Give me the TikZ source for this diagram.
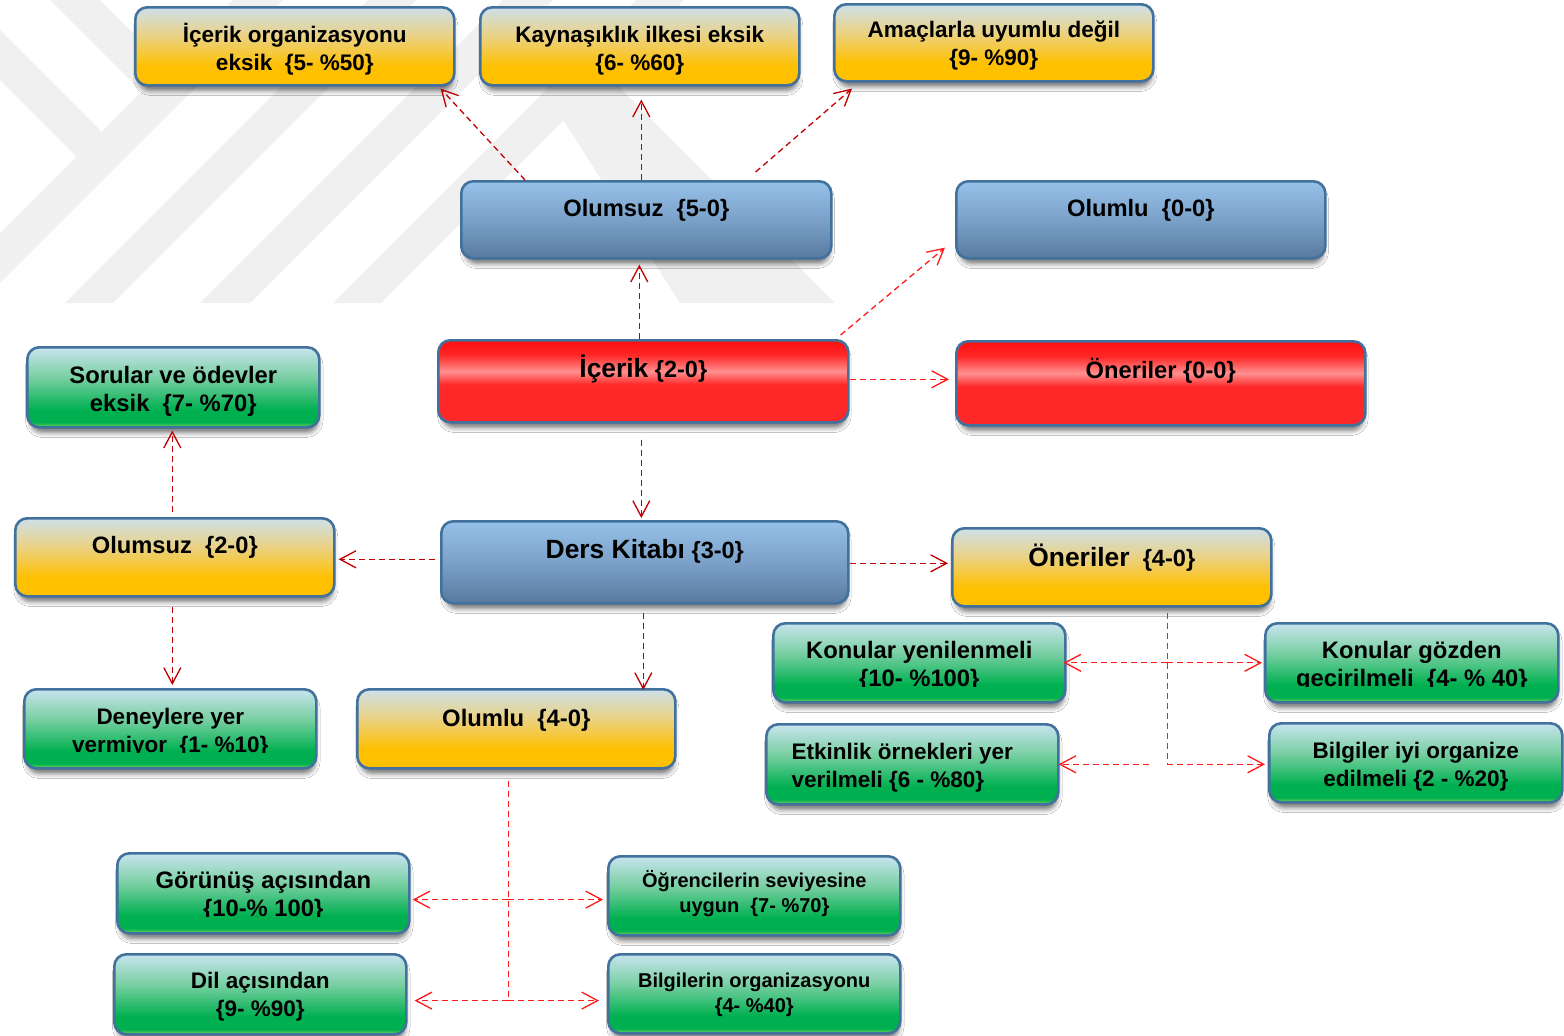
\documentclass[tikz,border=0pt]{standalone}
\usepackage{fontspec}
\setmainfont{Liberation Sans}
\usetikzlibrary{arrows.meta,shadows.blur,calc}

\definecolor{edge}{HTML}{41719C}
\definecolor{dred}{HTML}{C00000}
\definecolor{bred}{HTML}{FF1A1A}
\definecolor{wm}{HTML}{F0F0F0}
% yellow
\definecolor{ylo}{HTML}{FFC000}
\definecolor{ymid}{HTML}{EAD286}
\definecolor{ytop}{HTML}{CDE0EA}
% green
\definecolor{gedge}{HTML}{7CD65A}
\definecolor{glo}{HTML}{00B050}
\definecolor{gmid}{HTML}{78CFA2}
\definecolor{gtop}{HTML}{C8E4EE}
% blue
\definecolor{blo}{HTML}{587A9E}
\definecolor{bmid}{HTML}{7BA1C9}
\definecolor{btop}{HTML}{96C1E8}
% red
\definecolor{rtop}{HTML}{FF0D0D}
\definecolor{rhi}{HTML}{FF9090}
\definecolor{rlo}{HTML}{FF2828}

\pgfdeclareverticalshading{yshade}{100bp}{color(0bp)=(ylo); color(25bp)=(ylo); color(37bp)=(ylo); color(57bp)=(ymid); color(75bp)=(ytop); color(100bp)=(ytop)}
\pgfdeclareverticalshading{gshade}{100bp}{color(0bp)=(gedge); color(25bp)=(gedge); color(28bp)=(glo); color(36bp)=(glo); color(56bp)=(gmid); color(75bp)=(gtop); color(100bp)=(gtop)}
\pgfdeclareverticalshading{bshade}{100bp}{color(0bp)=(blo); color(25bp)=(blo); color(50bp)=(bmid); color(75bp)=(btop); color(100bp)=(btop)}
\pgfdeclareverticalshading{rshade}{100bp}{color(0bp)=(rlo); color(25bp)=(rlo); color(48bp)=(rlo); color(56bp)=(rhi); color(66bp)=(rlo); color(75bp)=(rtop); color(100bp)=(rtop)}

% strut that fixes the top of every label
\newcommand\lnstrut{\rule{0pt}{26pt}}
\newcommand\bigsz{\fontsize{26.4}{28}\selectfont}

\tikzset{
  boxbase/.style={rounded corners=12pt, draw=edge, line width=2.6pt, inner sep=0pt,
    blur shadow={shadow xshift=1pt, shadow yshift=-6pt, shadow blur radius=5pt,
      shadow opacity=55, shadow scale=0.985}},
  ybox/.style={boxbase, shading=yshade},
  gbox/.style={boxbase, shading=gshade},
  bbox/.style={boxbase, shading=bshade},
  rbox/.style={boxbase, shading=rshade},
  lbl/.style={anchor=north, inner sep=0pt, align=center, font=\bfseries\fontsize{22.5}{28}\selectfont},
  lblsize/.style={font=\bfseries\fontsize{#1}{28}\selectfont},
  lblsmall/.style={font=\bfseries\fontsize{20}{25}\selectfont},
  conn/.style={line width=1.3pt, dash pattern=on 6pt off 4pt, -{Straight Barb[length=16pt,width=17pt]}},
  darrow/.style={conn, draw=dred},
  rarrow/.style={conn, draw=bred},
  rline/.style={line width=1.3pt, dash pattern=on 6pt off 4pt, draw=bred},
}

% name, style, left, top, width, height, label options, clip above bottom, text
\newcommand\diabox[9]{%
  \node[#2, minimum width=#5pt, minimum height=#6pt, anchor=north west] (#1) at (#3,#4) {};
  \begin{scope}
    \clip ([xshift=-4pt]#1.north west) rectangle ([yshift=#8pt,xshift=4pt]#1.south east);
    \node[lbl, #7] (#1-t) at ([yshift=-10pt]#1.north) {#9};
  \end{scope}}

\begin{document}
\begin{tikzpicture}[x=1pt, y=-1pt]
\useasboundingbox[fill=white] (0,0) rectangle (1564,1036);

% faint background emblem: rising bands, two falling bands on the left, one on the right
\begin{scope}
  \clip (0,0) rectangle (880,303);
  \foreach \c/\d in {233/283, 368/416, 503/553, 636/684}
    \fill[wm] (\c,0) -- (\d,0) -- (\d-303,303) -- (\c-303,303) -- cycle;
  \fill[wm] (0,30) -- (114,144) -- (89,169) -- (0,80) -- cycle;
  \fill[wm] (50,0) -- (100,0) -- (179,79) -- (154,104) -- cycle;
  \fill[wm] (562,118) -- (608,76) -- (835,303) -- (680,303) -- cycle;
\end{scope}

% boxes
\diabox{org}{ybox}{134}{6}{319}{78}{}{0}{\lnstrut İçerik organizasyonu\\eksik\ \ \{5- \%50\}}
\diabox{kay}{ybox}{479}{6}{319}{78}{}{0}{\lnstrut Kaynaşıklık ilkesi eksik\\\{6- \%60\}}
\diabox{ama}{ybox}{833}{3}{319}{77}{yshift=2pt}{0}{\lnstrut Amaçlarla uyumlu değil\\\{9- \%90\}}
\diabox{olz5}{bbox}{460}{180}{370}{77}{lblsize=23.7}{0}{\lnstrut Olumsuz\ \ \{5-0\}}
\diabox{oll0}{bbox}{955}{180}{369}{77}{lblsize=23.7}{0}{\lnstrut Olumlu\ \ \{0-0\}}
\diabox{ic}{rbox}{437}{339}{410}{82}{lblsize=23.5, yshift=-2pt}{0}{\lnstrut{\bigsz İçerik} \{2-0\}}
\diabox{on0}{rbox}{955}{340}{409}{84}{lblsize=23.7, yshift=-2pt}{0}{\lnstrut Öneriler \{0-0\}}
\diabox{sor}{gbox}{26}{346}{292}{80}{lblsize=23.8, yshift=-1pt}{0}{\lnstrut Sorular ve ödevler\\eksik\ \ \{7- \%70\}}
\diabox{olz2}{ybox}{14}{517}{319}{78}{lblsize=23.7}{0}{\lnstrut Olumsuz\ \ \{2-0\}}
\diabox{dk}{bbox}{440}{520}{407}{82}{lblsize=23.5, yshift=-2pt}{0}{\lnstrut{\bigsz Ders Kitabı} \{3-0\}}
\diabox{on4}{ybox}{951}{527}{319}{78}{lblsize=23.6, yshift=-3pt}{0}{\lnstrut{\bigsz Öneriler}\ \ \{4-0\}}
\diabox{kyen}{gbox}{772}{622}{292}{79}{lblsize=23.8}{17}{\lnstrut Konular yenilenmeli\\\{10- \%100\}}
\diabox{kgoz}{gbox}{1264}{622}{293}{79}{lblsize=23.8}{17}{\lnstrut Konular gözden\\gecirilmeli\ \ \{4- \% 40\}}
\diabox{den}{gbox}{23}{688}{292}{79}{}{17}{\lnstrut Deneylere yer\\vermiyor\ \ \{1- \%10\}}
\diabox{oll4}{ybox}{356}{688}{318}{79}{lblsize=23.8, yshift=-2pt}{0}{\lnstrut Olumlu\ \ \{4-0\}}
\diabox{etk}{gbox}{765}{723}{292}{80}{align=left, xshift=-10pt}{0}{\lnstrut Etkinlik örnekleri yer\\verilmeli \{6 - \%80\}}
\diabox{bil}{gbox}{1268}{722}{293}{79}{}{0}{\lnstrut Bilgiler iyi organize\\edilmeli \{2 - \%20\}}
\diabox{gor}{gbox}{116}{852}{292}{80}{lblsize=23.8}{18}{\lnstrut Görünüş açısından\\\{10-\% 100\}}
\diabox{ogr}{gbox}{607}{855}{292}{79}{lblsmall, yshift=4pt}{0}{\lnstrut Öğrencilerin seviyesine\\uygun\ \ \{7- \%70\}}
\diabox{dil}{gbox}{113}{953}{292}{80}{yshift=1pt}{0}{\lnstrut Dil açısından\\\{9- \%90\}}
\diabox{bor}{gbox}{607}{953}{292}{79}{lblsmall, yshift=2pt}{0}{\lnstrut Bilgilerin organizasyonu\\\{4- \%40\}}

% Olumsuz {5-0} to its three findings
\draw[darrow] ([xshift=65pt]olz5.north west) -- ([xshift=-15pt,yshift=-2pt]org.south east);
\draw[darrow] ([xshift=-5pt]olz5.north) -- ([xshift=1.5pt,yshift=-13pt]kay.south);
\draw[darrow] ([xshift=-77pt,yshift=8pt]olz5.north east) -- ([xshift=19pt,yshift=-6pt]ama.south west);

% İçerik
\draw[darrow] ([xshift=-4pt]ic.north) -- ([xshift=-7pt,yshift=-5pt]olz5.south);
\draw[rarrow] ([xshift=-9pt,yshift=4pt]ic.north east) -- ([xshift=-10pt,yshift=12pt]oll0.south west);
\draw[rarrow] ([yshift=2pt]ic.east) -- ([xshift=-6pt,yshift=4pt]on0.west);
\draw[darrow] ([xshift=-2pt,yshift=-16pt]ic.south) -- ([xshift=-3.5pt,yshift=2pt]dk.north);

% Ders Kitabı
\draw[darrow] ([xshift=-5pt,yshift=3pt]dk.west) -- ([xshift=3pt,yshift=-2pt]olz2.east);
\draw[darrow] ([yshift=-1pt]dk.east) -- ([xshift=-3pt,yshift=4pt]on4.west);
\draw[darrow] ([xshift=-1.5pt,yshift=-8pt]dk.south) -- ([xshift=127pt,yshift=-2pt]oll4.north);

% Olumsuz {2-0}
\draw[darrow] ([xshift=-2.5pt,yshift=5pt]olz2.north) -- ([xshift=-1pt,yshift=-2pt]sor.south);
\draw[darrow] ([xshift=-2.5pt,yshift=-9pt]olz2.south) -- ([xshift=2pt,yshift=3pt]den.north);

% Öneriler {4-0}
\coordinate (j4) at ([xshift=55.5pt,yshift=-5pt]on4.south);
\draw[rline] (j4) -- (j4 |- etk.east);
\draw[rarrow, shorten >=-3pt] (j4 |- kyen.east) -- (kyen.east);
\draw[rarrow, shorten >=2pt] (j4 |- kyen.east) -- (kgoz.west |- kyen.east);
\draw[rarrow, shorten >=-1pt] ($(j4 |- etk.east)+(-18,0)$) -- (etk.east);
\draw[rarrow, shorten >=3pt] (j4 |- etk.east) -- (bil.west |- etk.east);

% Olumlu {4-0}
\coordinate (j5) at ([xshift=-8pt,yshift=-11pt]oll4.south);
\coordinate (h1) at ($(j5)+(0,119)$);
\coordinate (h2) at ($(j5)+(0,220)$);
\draw[rline] (j5) -- (h2);
\draw[rarrow, shorten >=2pt] (h1) -- (gor.east |- h1);
\draw[rarrow, shorten >=4pt] (h1) -- (ogr.west |- h1);
\draw[rarrow, shorten >=7pt] (h2) -- (dil.east |- h2);
\draw[rarrow, shorten >=8pt] (h2) -- (bor.west |- h2);
\end{tikzpicture}
\end{document}
